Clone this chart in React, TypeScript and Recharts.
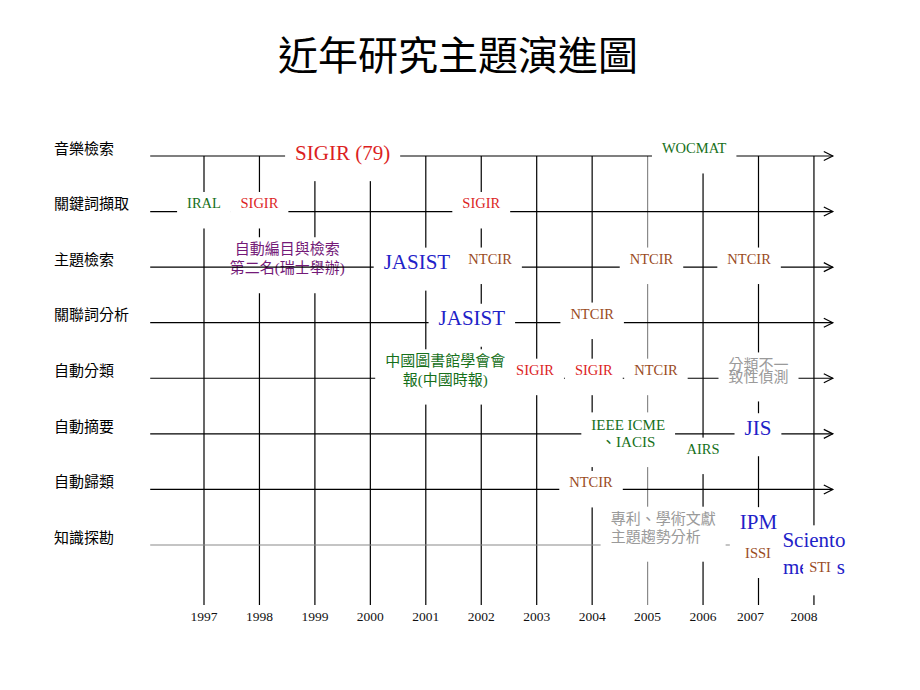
import React from "react";
import { ScatterChart, Scatter, XAxis, YAxis } from "recharts";

const TITLE = "近年研究主題演進圖";

const YEARS = [1997, 1998, 1999, 2000, 2001, 2002, 2003, 2004, 2005, 2006, 2007, 2008];

const TOPICS = [
  "音樂檢索",
  "關鍵詞擷取",
  "主題檢索",
  "關聯詞分析",
  "自動分類",
  "自動摘要",
  "自動歸類",
  "知識探勘",
];
const ROWS = [1, 2, 3, 4, 5, 6, 7, 8];

// row lines run from just left of 1997 to the arrow tip; year lines run below the last row
const LINE_FROM = 1996.03;
const LINE_TO = 2008.34;
const GRID_BOTTOM = 9.08;

// venue / event labels placed on the (year, topic row) grid
const ANNOTATIONS = [
  { text: "SIGIR (79)", year: 1999.5, row: 0.94 },
  { text: "WOCMAT", year: 2005.84, row: 0.86 },
  { text: "IRAL", year: 1997.0, row: 1.85 },
  { text: "SIGIR", year: 1998.0, row: 1.85 },
  { text: "SIGIR", year: 2002.0, row: 1.85 },
  { text: "自動編目與檢索\n第二名(瑞士舉辦)", year: 1998.5, row: 2.84 },
  { text: "JASIST", year: 2000.84, row: 2.91 },
  { text: "NTCIR", year: 2002.16, row: 2.85 },
  { text: "NTCIR", year: 2005.07, row: 2.85 },
  { text: "NTCIR", year: 2006.83, row: 2.85 },
  { text: "JASIST", year: 2001.83, row: 3.92 },
  { text: "NTCIR", year: 2004.0, row: 3.84 },
  { text: "中國圖書館學會會\n報(中國時報)", year: 2001.35, row: 4.85 },
  { text: "SIGIR", year: 2002.97, row: 4.85 },
  { text: "SIGIR", year: 2004.03, row: 4.85 },
  { text: "NTCIR", year: 2005.15, row: 4.85 },
  { text: "分類不一\n致性偵測", year: 2007.0, row: 4.85 },
  { text: "IEEE ICME\n、IACIS", year: 2004.65, row: 5.98 },
  { text: "AIRS", year: 2006.0, row: 6.27 },
  { text: "JIS", year: 2006.99, row: 5.89 },
  { text: "NTCIR", year: 2003.98, row: 6.87 },
  { text: "專利、學術文獻\n主題趨勢分析", year: 2005.28, row: 7.68 },
  { text: "IPM", year: 2007.0, row: 7.58 },
  { text: "ISSI", year: 2006.99, row: 8.14 },
  { text: "Sciento\nmetrics", year: 2008.0, row: 8.15 },
  { text: "STI", year: 2008.11, row: 8.4 },
];

const RED = "#dc1f1f";
const GREEN = "#16701a";
const BROWN = "#9a4b1d";
const BLUE = "#1f22c8";
const PURPLE = "#741a78";
const GRAY = "#9a9a9a";

const COLORS: Record<string, string> = {
  "SIGIR (79)": RED,
  SIGIR: RED,
  IRAL: GREEN,
  WOCMAT: GREEN,
  AIRS: GREEN,
  "IEEE ICME\n、IACIS": GREEN,
  "中國圖書館學會會\n報(中國時報)": GREEN,
  NTCIR: BROWN,
  ISSI: BROWN,
  STI: BROWN,
  JASIST: BLUE,
  JIS: BLUE,
  IPM: BLUE,
  "Sciento\nmetrics": BLUE,
  "自動編目與檢索\n第二名(瑞士舉辦)": PURPLE,
  "分類不一\n致性偵測": GRAY,
  "專利、學術文獻\n主題趨勢分析": GRAY,
};

const BIG = new Set(["SIGIR (79)", "JASIST", "JIS", "IPM", "Sciento\nmetrics"]);

const LINE_HEIGHT: Record<string, number> = {
  "自動編目與檢索\n第二名(瑞士舉辦)": 19,
  "中國圖書館學會會\n報(中國時報)": 18.3,
  "分類不一\n致性偵測": 12,
  "IEEE ICME\n、IACIS": 17.7,
  "專利、學術文獻\n主題趨勢分析": 18,
  "Sciento\nmetrics": 27,
};

const LEFT_ALIGNED = new Set(["專利、學術文獻\n主題趨勢分析"]);
// this one sits under the row lines, STI sits on top of Scientometrics
const UNDER = new Set(["自動編目與檢索\n第二名(瑞士舉辦)"]);
const OVERLAY = new Set(["STI"]);

const YEAR_LINE_COLOR: Record<number, string> = { 2005: "#8a8a8a" };
const ROW_LINE_COLOR: Record<number, string> = { 8: "#8a8a8a" };
const YEAR_TICK_SHIFT: Record<number, number> = { 2007: -8, 2008: -10 };

const SERIF_FONT = "'Liberation Serif', 'Times New Roman', serif";
const CJK_FONT = "'Liberation Serif', 'Noto Sans CJK TC', sans-serif";
const LABEL_FONT = "'Noto Sans CJK TC', sans-serif";

const YAXIS_W = 94.55;
const PAD_X = 10;

let ctx: CanvasRenderingContext2D | null = null;
function measure(s: string, font: string) {
  if (!ctx) ctx = document.createElement("canvas").getContext("2d");
  if (!ctx) return s.length * 8;
  ctx.font = font;
  return ctx.measureText(s).width;
}

function layout(text: string, cy: number) {
  const cjk = /[\u3000-\u9fff]/.test(text);
  const size = BIG.has(text) ? 21 : cjk ? 15 : 14.5;
  const family = cjk ? CJK_FONT : SERIF_FONT;
  const lines = text.split("\n");
  const lh = LINE_HEIGHT[text] ?? size;
  const w = Math.max(...lines.map((l) => measure(l, `${size}px ${family}`)));
  const blockH = (lines.length - 1) * lh + size;
  const top = cy - blockH / 2;
  return { cjk, size, family, lines, lh, w, blockH, top };
}

function LabelBox(props: any) {
  const { cx, cy, payload } = props;
  const l = layout(payload.text, cy);
  const pad = OVERLAY.has(payload.text) ? 6 : PAD_X;
  return (
    <rect
      x={cx - l.w / 2 - pad}
      y={l.top - 4}
      width={l.w + pad * 2}
      height={l.blockH + 22}
      fill="#fff"
    />
  );
}

function LabelText(props: any) {
  const { cx, cy, payload } = props;
  const l = layout(payload.text, cy);
  const left = LEFT_ALIGNED.has(payload.text);
  const k = l.cjk ? 0.38 : 0.33;
  return (
    <text
      textAnchor={left ? "start" : "middle"}
      fontSize={l.size}
      fontFamily={l.family}
      fill={COLORS[payload.text] ?? "#000"}
    >
      {l.lines.map((line, i) => (
        <tspan
          key={i}
          x={left ? cx - l.w / 2 : cx}
          y={l.top + l.size / 2 + i * l.lh + l.size * k}
        >
          {line}
        </tspan>
      ))}
    </text>
  );
}

function ArrowEnd(props: any) {
  const { cx, cy, payload } = props;
  if (!payload.arrow) return <g />;
  return (
    <polyline
      points={`${cx - 9},${cy - 4.5} ${cx},${cy} ${cx - 9},${cy + 4.5}`}
      fill="none"
      stroke={payload.color}
      strokeWidth={1.2}
    />
  );
}

const Nothing = () => <g />;

function TopicTick(props: any) {
  const { x, y, payload } = props;
  return (
    <text x={x - YAXIS_W} y={y - 2.3} fontSize={15} fontFamily={LABEL_FONT} fill="#000">
      {TOPICS[payload.value - 1]}
    </text>
  );
}

function YearTick(props: any) {
  const { x, y, payload } = props;
  return (
    <text
      x={x + (YEAR_TICK_SHIFT[payload.value] ?? 0)}
      y={y + 15.5}
      textAnchor="middle"
      fontSize={13.5}
      fontFamily={SERIF_FONT}
      fill="#111"
    >
      {payload.value}
    </text>
  );
}

export default function App() {
  const points = ANNOTATIONS.map((a) => ({ x: a.year, y: a.row, text: a.text }));
  const under = points.filter((p) => UNDER.has(p.text));
  const overlay = points.filter((p) => OVERLAY.has(p.text));
  const normal = points.filter((p) => !UNDER.has(p.text) && !OVERLAY.has(p.text));

  return (
    <div style={{ position: "absolute", left: 0, top: 0, width: 920, height: 690, background: "#fff" }}>
      <div style={{ position: "absolute", left: 0, top: 0 }}>
        <ScatterChart
          width={920}
          height={690}
          margin={{ top: 128.2, right: 50.6, bottom: 55, left: 54 }}
        >
          <XAxis
            type="number"
            dataKey="x"
            domain={[1996, 2009]}
            ticks={YEARS}
            interval={0}
            tick={<YearTick />}
            axisLine={false}
            tickLine={false}
            tickSize={0}
            tickMargin={0}
            height={30}
          />
          <YAxis
            type="number"
            dataKey="y"
            domain={[0.5, GRID_BOTTOM]}
            reversed
            ticks={ROWS}
            interval={0}
            tick={<TopicTick />}
            axisLine={false}
            tickLine={false}
            tickSize={0}
            tickMargin={0}
            width={YAXIS_W}
          />

          {YEARS.map((yr) => (
            <Scatter
              key={`v${yr}`}
              data={[
                { x: yr, y: 1 },
                { x: yr, y: GRID_BOTTOM },
              ]}
              fill="none"
              line={{ stroke: YEAR_LINE_COLOR[yr] ?? "#000", strokeWidth: 1.2 }}
              shape={Nothing}
              isAnimationActive={false}
            />
          ))}

          <Scatter data={under} fill="none" shape={LabelBox} isAnimationActive={false} />
          <Scatter data={under} fill="none" shape={LabelText} isAnimationActive={false} />

          {ROWS.map((r) => {
            const color = ROW_LINE_COLOR[r] ?? "#000";
            return (
              <Scatter
                key={`h${r}`}
                data={[
                  { x: LINE_FROM, y: r, arrow: false, color },
                  { x: LINE_TO, y: r, arrow: true, color },
                ]}
                fill="none"
                line={{ stroke: color, strokeWidth: 1.2 }}
                shape={ArrowEnd}
                isAnimationActive={false}
              />
            );
          })}

          <Scatter data={normal} fill="none" shape={LabelBox} isAnimationActive={false} />
          <Scatter data={normal} fill="none" shape={LabelText} isAnimationActive={false} />
          <Scatter data={overlay} fill="none" shape={LabelBox} isAnimationActive={false} />
          <Scatter data={overlay} fill="none" shape={LabelText} isAnimationActive={false} />
        </ScatterChart>
      </div>
      <svg
        width={920}
        height={100}
        style={{ position: "absolute", left: 0, top: 0, pointerEvents: "none" }}
      >
        <text
          x={458}
          y={70}
          textAnchor="middle"
          fontSize={40}
          fontFamily={LABEL_FONT}
          fill="#000"
        >
          {TITLE}
        </text>
      </svg>
    </div>
  );
}
